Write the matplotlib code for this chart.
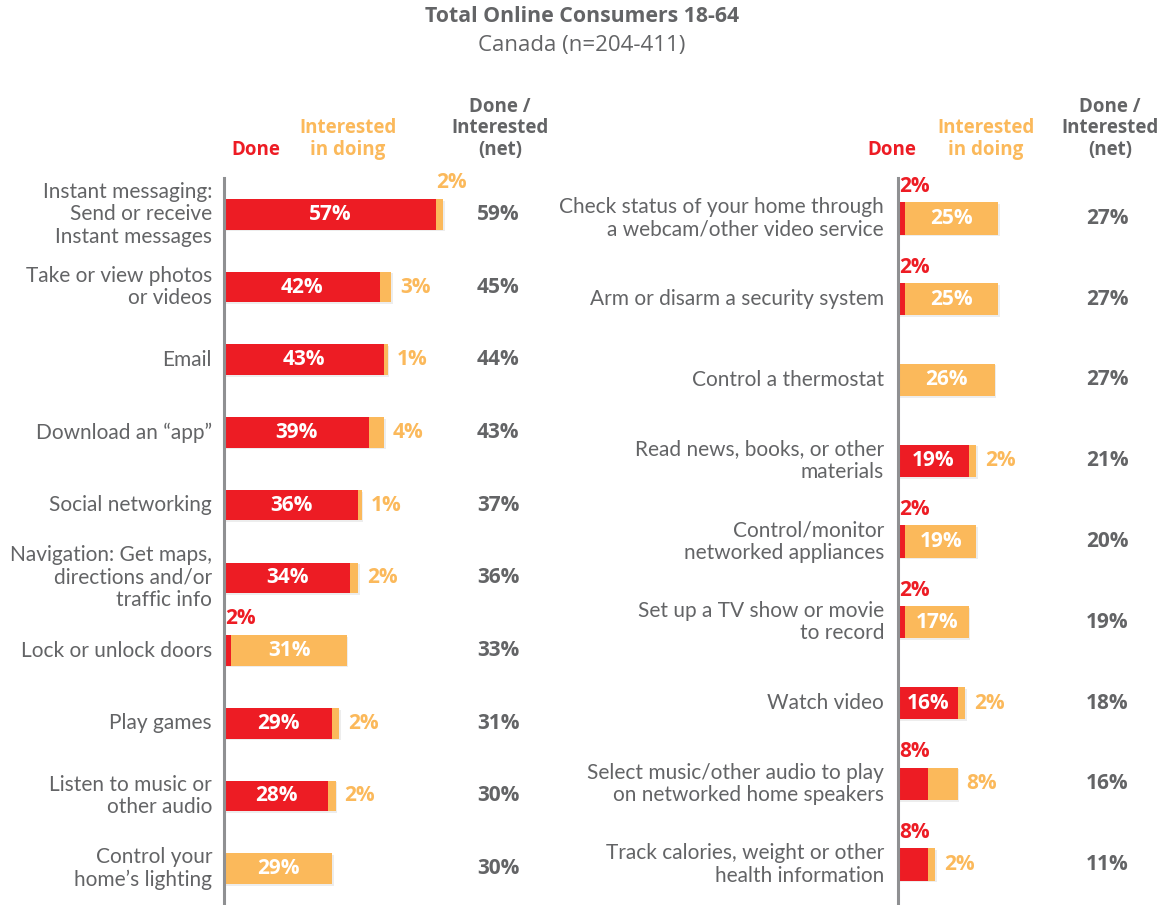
import matplotlib
matplotlib.use("Agg")
import matplotlib.pyplot as plt
import matplotlib.patheffects as pe

plt.rcParams['font.family'] = ['Open Sans', 'DejaVu Sans']

RED = '#ed1c24'
ORANGE = '#fbb95b'
GREY = '#636466'
AXIS = '#8f9092'

# left panel
left_cats = [
    "Instant messaging:\nSend or receive\nInstant messages",
    "Take or view photos\nor videos",
    "Email",
    "Download an \u201capp\u201d",
    "Social networking",
    "Navigation: Get maps,\ndirections and/or\ntraffic info",
    "Lock or unlock doors",
    "Play games",
    "Listen to music or\nother audio",
    "Control your\nhome\u2019s lighting",
]
left_done = [57, 42, 43, 39, 36, 34, 2, 29, 28, 0]
left_int = [2, 3, 1, 4, 1, 2, 31, 2, 2, 29]
left_net = [59, 45, 44, 43, 37, 36, 33, 31, 30, 30]

# right panel
right_cats = [
    "Check status of your home through\na webcam/other video service",
    "Arm or disarm a security system",
    "Control a thermostat",
    "Read news, books, or other\nmaterials",
    "Control/monitor\nnetworked appliances",
    "Set up a TV show or movie\nto record",
    "Watch video",
    "Select music/other audio to play\non networked home speakers",
    "Track calories, weight or other\nhealth information",
]
right_done = [2, 2, 0, 19, 2, 2, 16, 8, 8]
right_int = [25, 25, 26, 2, 19, 17, 2, 8, 2]
right_net = [27, 27, 27, 21, 20, 19, 18, 16, 11]

W, H = 1160, 905
fig = plt.figure(figsize=(W / 100, H / 100), dpi=100)

PX_PER_PCT = 3.72
VAL_FS = 15


def px_axes(x0, y0, x1, y1):
    return fig.add_axes([x0 / W, 1 - y1 / H, (x1 - x0) / W, (y1 - y0) / H])


shadow = [pe.SimplePatchShadow(offset=(1.2, -1.2), alpha=0.15, shadow_rgbFace='#888888'), pe.Normal()]


def draw_panel(ax, cats, done, interest, net, bar_h, net_x, label_x):
    n = len(cats)
    ys = list(range(n))
    ax.barh(ys, done, height=bar_h, color=RED, path_effects=shadow, zorder=2)
    ax.barh(ys, interest, left=done, height=bar_h, color=ORANGE, path_effects=shadow, zorder=2)

    for y, cat, d, it, nt in zip(ys, cats, done, interest, net):
        ax.text(label_x, y, cat, ha='right', va='center', multialignment='right',
                fontsize=15, color=GREY, family=['Lato', 'DejaVu Sans'], linespacing=1.15)
        # done value
        if d >= 10:
            ax.text(d / 2, y, f"{d}%", ha='center', va='center', color='white',
                    fontsize=VAL_FS, fontweight='bold')
        elif d > 0:
            ax.annotate(f"{d}%", (0, y), xytext=(1, 23), textcoords='offset points',
                        ha='left', va='center', color=RED, fontsize=VAL_FS, fontweight='bold')
        # interested value
        if it >= 10:
            ax.text(d + it / 2, y, f"{it}%", ha='center', va='center', color='white',
                    fontsize=VAL_FS, fontweight='bold')
        elif d + it > 52:
            ax.annotate(f"{it}%", (d, y), xytext=(0, 23), textcoords='offset points',
                        ha='left', va='center', color=ORANGE, fontsize=VAL_FS, fontweight='bold')
        else:
            ax.annotate(f"{it}%", (d + it, y), xytext=(6.5, 0), textcoords='offset points',
                        ha='left', va='center', color=ORANGE, fontsize=VAL_FS, fontweight='bold')
        ax.text(net_x, y, f"{nt}%", ha='center', va='center', color=GREY,
                fontsize=VAL_FS, fontweight='bold')

    ax.set_ylim(n - 0.5, -0.5)
    for s in ['top', 'right', 'bottom']:
        ax.spines[s].set_visible(False)
    ax.spines['left'].set_color(AXIS)
    ax.spines['left'].set_linewidth(2.2)
    ax.set_xticks([])
    ax.set_yticks([])
    ax.patch.set_alpha(0)


# left axes: 0% at x=224px, rows spaced ~72.6px
ax_l = px_axes(224, 178, 224 + 80 * PX_PER_PCT, 905)
ax_l.set_xlim(0, 80)
draw_panel(ax_l, left_cats, left_done, left_int, left_net, 0.42,
           (498 - 224) / PX_PER_PCT, -12 / PX_PER_PCT)

# right axes: 0% at x=898px, rows spaced ~80.9px
ax_r = px_axes(898, 178, 898 + 70 * PX_PER_PCT, 905)
ax_r.set_xlim(0, 70)
draw_panel(ax_r, right_cats, right_done, right_int, right_net, 0.40,
           (1107 - 898) / PX_PER_PCT, -14 / PX_PER_PCT)

# titles
fig.text(582 / W, 1 - 17 / H, "Total Online Consumers 18-64", ha='center', va='center',
         fontsize=15.3, fontweight='bold', color=GREY)
fig.text(582 / W, 1 - 46 / H, "Canada (n=204-411)", ha='center', va='center',
         fontsize=16, color=GREY)

# column headers
for x_done, x_int, x_net in [(256, 348, 500), (892, 986, 1110)]:
    fig.text(x_done / W, 1 - 150 / H, "Done", ha='center', va='center',
             fontsize=13.5, fontweight='bold', color=RED)
    fig.text(x_int / W, 1 - 139 / H, "Interested\nin doing", ha='center', va='center',
             fontsize=13.5, fontweight='bold', color=ORANGE, linespacing=1.1)
    fig.text(x_net / W, 1 - 128 / H, "Done /\nInterested\n(net)", ha='center', va='center',
             fontsize=13.5, fontweight='bold', color=GREY, linespacing=1.1)

fig.savefig('out.png', dpi=100, facecolor='white')
